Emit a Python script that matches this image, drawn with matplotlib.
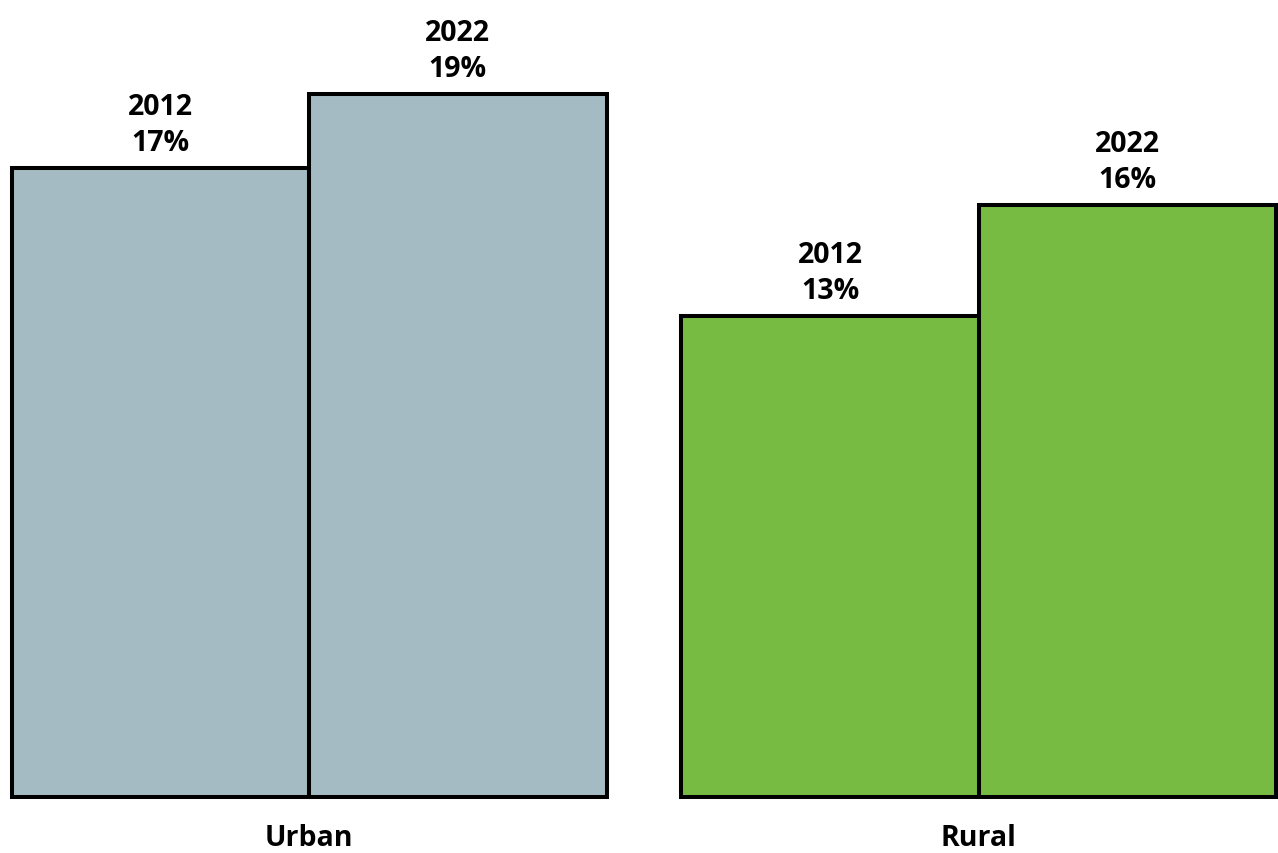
import matplotlib
matplotlib.use("Agg")
import matplotlib.pyplot as plt
import numpy as np

# Share of population, by area and survey year
groups = ["Urban", "Rural"]
years = ["2012", "2022"]
urban_values = [17, 19]
rural_values = [13, 16]
group_colors = ["#A5BBC3", "#77BB43"]

plt.rcParams["font.family"] = ["Open Sans", "DejaVu Sans"]

W, H = 1278, 854
fig = plt.figure(figsize=(W / 100, H / 100), dpi=100)

bar_w = 0.444
left_px, right_px, bottom_px, top_px = 12, 1276, 798, 58
ax = fig.add_axes([left_px / W, (H - bottom_px) / H,
                   (right_px - left_px) / W, (bottom_px - top_px) / H])
ax.set_xlim(-bar_w, 1 + bar_w)
ax.set_ylim(0, 20)
ax.axis("off")

x = np.arange(len(groups))
for gi, vals in enumerate([urban_values, rural_values]):
    for yi, (yr, v) in enumerate(zip(years, vals)):
        xc = x[gi] + (yi - 0.5) * bar_w
        ax.bar(xc, v, width=bar_w, color=group_colors[gi],
               edgecolor="black", linewidth=2.9, clip_on=False, zorder=2)
        ax.annotate(f"{yr}\n{v}%", xy=(xc, v), xytext=(0, 8),
                    textcoords="offset points", ha="center", va="bottom",
                    fontsize=20.5, fontweight="bold", linespacing=1.3,
                    color="black")
    ax.annotate(groups[gi], xy=(x[gi], 0), xytext=(0, -29),
                textcoords="offset points", ha="center", va="center",
                fontsize=20.5, fontweight="bold", color="black",
                annotation_clip=False)

fig.savefig("out.png", dpi=100, facecolor="white")
